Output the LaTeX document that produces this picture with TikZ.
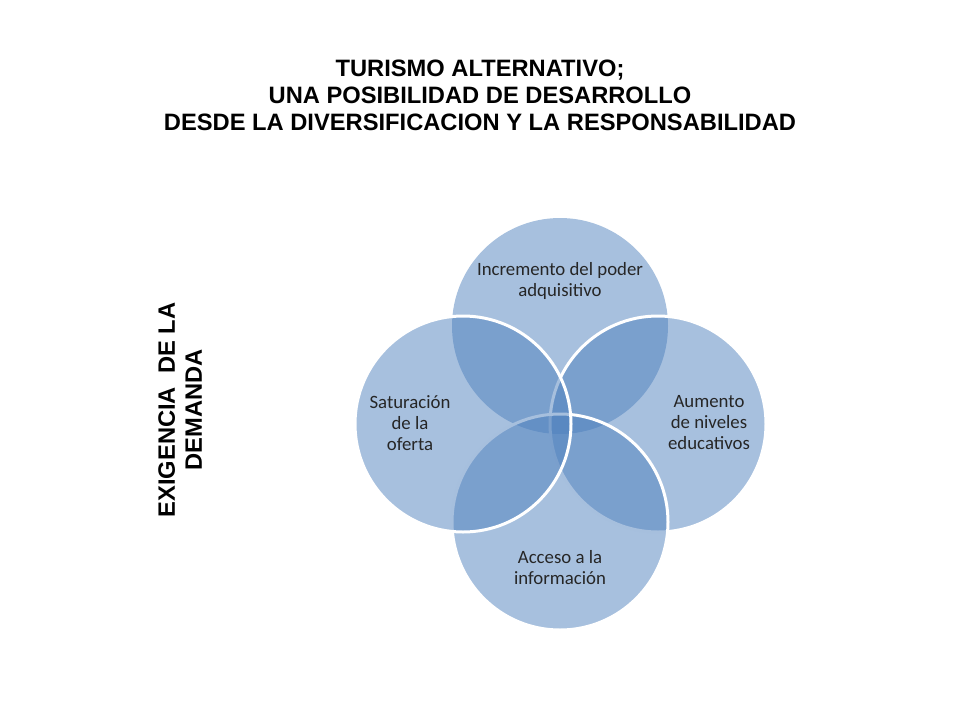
\documentclass[tikz,border=0pt]{standalone}
\usepackage{fontspec}
\setmainfont{Carlito}
\newfontfamily\titlefont{Liberation Sans}
\definecolor{zzttff}{rgb}{0.31,0.506,0.741}
\definecolor{qqqqqq}{rgb}{0.15,0.15,0.15}
\begin{document}
\begin{tikzpicture}[line cap=round,line join=round,x=1pt,y=-1pt,
    venn/.style={circle,minimum size=216pt,inner sep=0pt,fill=zzttff,fill opacity=0.5,draw=white,line width=3pt},
    lbl/.style={align=center,text=qqqqqq,font=\fontsize{18.8}{21}\selectfont},
    heading/.style={align=center,font=\titlefont\bfseries\fontsize{23.7}{27}\selectfont}]
        \useasboundingbox (0,0) rectangle (960,720);
        \node[heading] (title) at (480,95) {TURISMO ALTERNATIVO;\\UNA POSIBILIDAD DE DESARROLLO\\DESDE LA DIVERSIFICACION Y LA RESPONSABILIDAD};
        \node[heading,rotate=90] (side) at (180,410) {EXIGENCIA\ \ DE LA\\DEMANDA};
        \node[venn,draw=none] (top) at (560,326) {};
        \node[venn] (right) at (658,424) {};
        \node[venn] (bottom) at (560,522) {};
        \node[venn] (left) at (463,424) {};
        \node[lbl] (topl) at (560,281) {Incremento del poder\\adquisitivo};
        \node[lbl] (rightl) at (709,423) {Aumento\\de niveles\\educativos};
        \node[lbl] (bottoml) at (560,568) {Acceso a la\\información};
        \node[lbl] (leftl) at (410,423) {Saturación\\de la\\oferta};
    \end{tikzpicture}
\end{document}
